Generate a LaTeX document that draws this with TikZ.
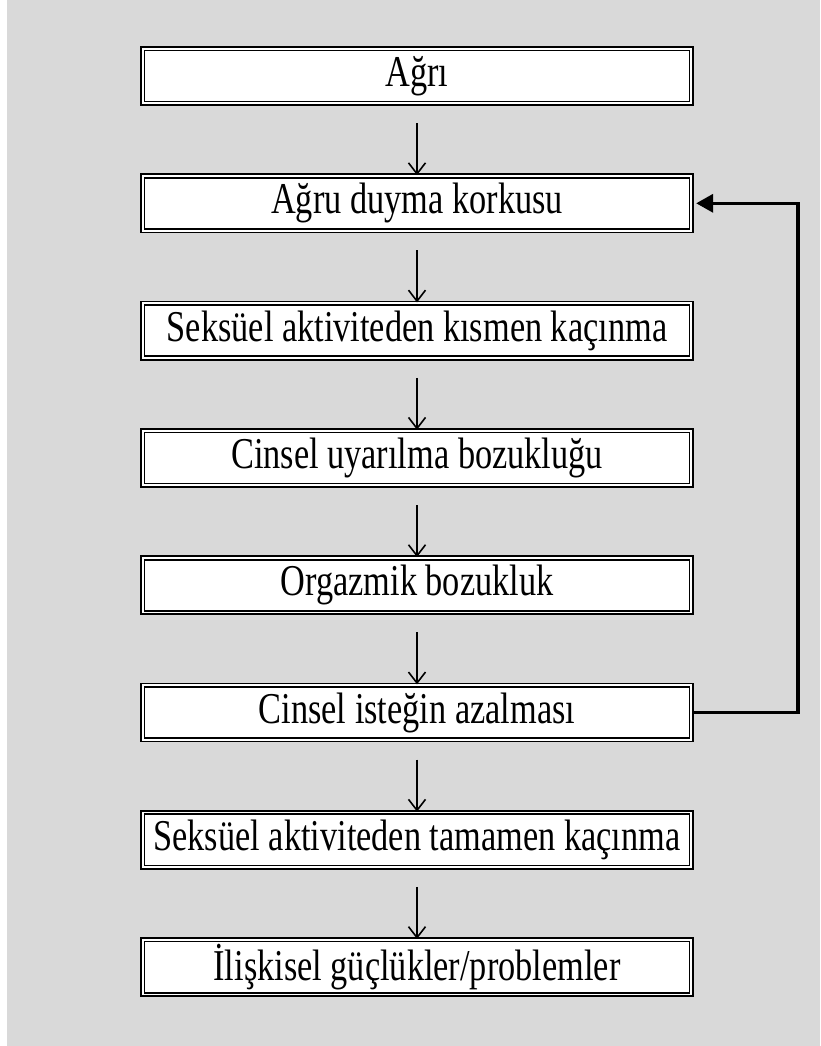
\documentclass[tikz,border=0pt]{standalone}
\usepackage{fontspec}
\setmainfont{Liberation Serif}[FakeStretch=0.78]
\usepackage{tikz}
\usetikzlibrary{arrows.meta,positioning}
\definecolor{bggrey}{HTML}{D9D9D9}
\tikzset{
    stepbox/.style={
           rectangle,
           draw=black, line width=1.7pt,
           double=white, double distance=1.8pt,
           fill=white,
           minimum height=54.6pt,
           minimum width=548.6pt,
           inner sep=0pt,
           text centered,
           font=\fontsize{44}{48}\selectfont
           },
    vert/.style={
           -{Straight Barb[length=11pt,width=17pt,line width=1.6pt]},
           line width=1.6pt,
           shorten <=19pt, shorten >=0pt
           } ,
    back/.style={
           -{Triangle[length=17pt,width=18pt]},
           line width=3.5pt,
           shorten >=4pt
           }
}
\begin{document}
\begin{tikzpicture}[x=1pt, y=-1pt, node distance=127.3pt, on grid]
   \useasboundingbox (0,0) rectangle (820,1046);
   \fill[bggrey] (7,0) rectangle (820,1046);
   \node[stepbox] (a) at (417,76) {Ağrı};
   \node[stepbox] (b)[below=of a] {Ağru duyma korkusu};
   \node[stepbox] (c)[below=of b] {Seksüel aktiviteden kısmen kaçınma};
   \node[stepbox] (d)[below=of c] {Cinsel uyarılma bozukluğu};
   \node[stepbox] (e)[below=of d] {Orgazmik bozukluk};
   \node[stepbox] (f)[below=of e] {Cinsel isteğin azalması};
   \node[stepbox] (g)[below=of f] {Seksüel aktiviteden tamamen kaçınma};
   \node[stepbox] (h)[below=of g] {İlişkisel güçlükler/problemler};
   \path
    (a) edge[vert] (b)
    (b) edge[vert] (c)
    (c) edge[vert] (d)
    (d) edge[vert] (e)
    (e) edge[vert] (f)
    (f) edge[vert] (g)
    (g) edge[vert] (h);
   \coordinate (turn) at (798,712.5);
   \draw[back] (f.east) -- (turn) |- (b.east);
\end{tikzpicture}
\end{document}
